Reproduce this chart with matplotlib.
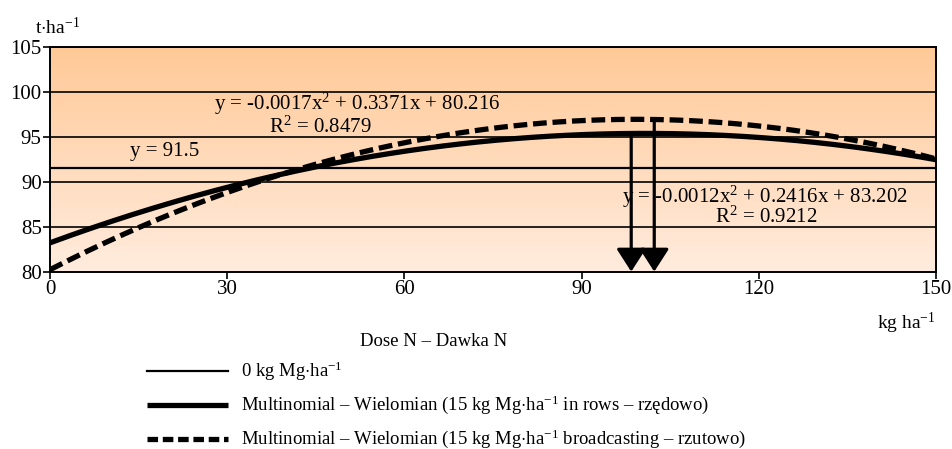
import numpy as np
import matplotlib
matplotlib.use("Agg")
import matplotlib.pyplot as plt
from matplotlib.lines import Line2D

plt.rcParams['font.family'] = ['Liberation Serif', 'DejaVu Serif']
plt.rcParams['mathtext.fontset'] = 'custom'
plt.rcParams['mathtext.rm'] = 'Liberation Serif'
plt.rcParams['mathtext.it'] = 'Liberation Serif:italic'

# dane: dawki N i współczynniki linii trendu
x_ticks = [0, 30, 60, 90, 120, 150]
y_ticks = [80, 85, 90, 95, 100, 105]
control_level = 91.5                       # 0 kg Mg
coef_rows = [-0.0012, 0.2416, 83.202]      # 15 kg Mg rzędowo
coef_broad = [-0.0017, 0.3371, 80.216]     # 15 kg Mg rzutowo
r2_rows = 0.9212
r2_broad = 0.8479
arrow_x = [98.4, 102.3]                    # optimum dawki (strzałki)

xs = np.linspace(0, 150, 301)
y_rows = np.polyval(coef_rows, xs)
y_broad = np.polyval(coef_broad, xs)

fig = plt.figure(figsize=(9.52, 4.49), dpi=100, facecolor='white')
ax = fig.add_axes([0.0525, 0.395, 0.9307, 0.501])

# tło z gradientem
grad = np.linspace(0, 1, 256).reshape(-1, 1)
top = np.array([255, 201, 151]) / 255
bot = np.array([255, 236, 222]) / 255
img = bot + (top - bot) * grad
ax.imshow(img[:, None, :].repeat(2, axis=1), extent=[0, 150, 80, 105],
          origin='lower', aspect='auto', zorder=0)

for yv in y_ticks[1:]:
    ax.axhline(yv, color='black', lw=1.2, zorder=1)

ax.axhline(control_level, color='black', lw=1.6, zorder=2)
ax.plot(xs, y_rows, color='black', lw=3.8, zorder=3, solid_capstyle='butt')
ax.plot(xs, y_broad, color='black', lw=3.8, zorder=3,
        dashes=(2.6, 1.1), dash_capstyle='butt')

# strzałki do optymalnej dawki
arr_tops = [np.polyval(coef_rows, arrow_x[0]), np.polyval(coef_broad, arrow_x[1])]
for xa, ya in zip(arrow_x, arr_tops):
    ax.annotate('', xy=(xa, 80), xytext=(xa, ya),
                arrowprops=dict(arrowstyle='-|>,head_length=14,head_width=9',
                                mutation_scale=1, lw=2.3, color='black',
                                shrinkA=0, shrinkB=0),
                zorder=4)

fs = 15
eq_broad = r'y = -0.0017x$^2$ + 0.3371x + 80.216'
eq_rows = r'y = -0.0012x$^2$ + 0.2416x + 83.202'
ax.text(52, 98.6, eq_broad, ha='center', va='center', fontsize=fs, zorder=5)
ax.text(45.7, 96.1, 'R$^2$ = %.4f' % r2_broad, ha='center', va='center',
        fontsize=fs, zorder=5)
ax.text(19.4, 93.3, 'y = 91.5', ha='center', va='center', fontsize=fs, zorder=5)
ax.text(121.1, 88.3, eq_rows, ha='center', va='center', fontsize=fs, zorder=3.5)
ax.text(121.3, 86.1, 'R$^2$ = %.4f' % r2_rows, ha='center', va='center',
        fontsize=fs, zorder=5)

ax.set_xlim(0, 150)
ax.set_ylim(80, 105)
ax.set_xticks(x_ticks)
ax.set_yticks(y_ticks)
ax.tick_params(labelsize=fs, length=5, width=1.2, direction='out', pad=1)
for s in ax.spines.values():
    s.set_linewidth(1.4)
    s.set_zorder(6)

fs2 = 13.5
fig.text(35 / 952, 1 - 27 / 449, r't$\cdot$ha$^{-1}$', fontsize=fs2 + 0.5,
         ha='left', va='center')
fig.text(936 / 952, 1 - 323 / 449, r'kg ha$^{-1}$', fontsize=fs2 + 0.5,
         ha='right', va='center')
fig.text(434 / 952, 1 - 342 / 449, 'Dose N – Dawka N', fontsize=fs2,
         ha='center', va='center')

# legenda
leg_labels = [r'0 kg Mg$\cdot$ha$^{-1}$',
              r'Multinomial – Wielomian (15 kg Mg$\cdot$ha$^{-1}$ in rows – rzędowo)',
              r'Multinomial – Wielomian (15 kg Mg$\cdot$ha$^{-1}$ broadcasting – rzutowo)']
leg_y = [371, 405, 439]
leg_styles = [dict(lw=1.6), dict(lw=3.8, solid_capstyle='butt'),
              dict(lw=3.8, dashes=(2.0, 0.9), dash_capstyle='butt')]
for lab, yp, st in zip(leg_labels, leg_y, leg_styles):
    yf = 1 - yp / 449
    fig.add_artist(Line2D([147 / 952, 228 / 952], [yf, yf], color='black',
                          transform=fig.transFigure, **st))
    fig.text(241 / 952, yf, lab, fontsize=fs2, ha='left', va='center')

fig.savefig('out.png', dpi=100, facecolor='white')
